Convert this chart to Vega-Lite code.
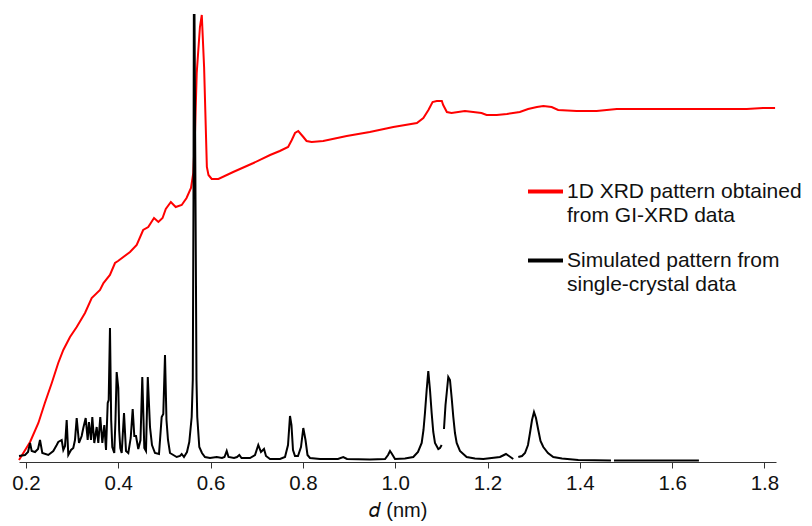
{
  "$schema": "https://vega.github.io/schema/vega-lite/v6.json",
  "width": 757,
  "height": 447,
  "autosize": {"type": "none"},
  "padding": {"left": 19, "top": 15, "right": 36, "bottom": 64},
  "background": "white",
  "config": {"view": {"stroke": null}, "font": "Liberation Sans"},
  "datasets": {
    "gixrd": [
      {"d": 0.185, "i": 2}, {"d": 0.209, "i": 20}, {"d": 0.227, "i": 39}, {"d": 0.241, "i": 59},
      {"d": 0.256, "i": 79}, {"d": 0.270, "i": 99}, {"d": 0.281, "i": 112}, {"d": 0.2955, "i": 125},
      {"d": 0.310, "i": 135}, {"d": 0.328, "i": 149}, {"d": 0.3425, "i": 164}, {"d": 0.3605, "i": 172},
      {"d": 0.368, "i": 179}, {"d": 0.382, "i": 187}, {"d": 0.393, "i": 199}, {"d": 0.3995, "i": 201},
      {"d": 0.4255, "i": 210}, {"d": 0.440, "i": 217}, {"d": 0.454, "i": 232}, {"d": 0.465, "i": 235},
      {"d": 0.4775, "i": 244}, {"d": 0.487, "i": 240}, {"d": 0.496, "i": 244}, {"d": 0.503, "i": 253},
      {"d": 0.514, "i": 260}, {"d": 0.5245, "i": 255}, {"d": 0.5375, "i": 257}, {"d": 0.548, "i": 264},
      {"d": 0.5576, "i": 274}, {"d": 0.5626, "i": 289}, {"d": 0.5663, "i": 329}, {"d": 0.570, "i": 389},
      {"d": 0.577, "i": 435}, {"d": 0.581, "i": 447}, {"d": 0.586, "i": 395}, {"d": 0.592, "i": 295},
      {"d": 0.5955, "i": 287}, {"d": 0.6025, "i": 283}, {"d": 0.617, "i": 283}, {"d": 0.649, "i": 290},
      {"d": 0.693, "i": 299}, {"d": 0.729, "i": 307}, {"d": 0.750, "i": 311}, {"d": 0.768, "i": 315},
      {"d": 0.776, "i": 322}, {"d": 0.783, "i": 329}, {"d": 0.790, "i": 331}, {"d": 0.801, "i": 325},
      {"d": 0.808, "i": 321}, {"d": 0.819, "i": 320}, {"d": 0.844, "i": 321}, {"d": 0.895, "i": 326},
      {"d": 0.945, "i": 330}, {"d": 0.996, "i": 335}, {"d": 1.047, "i": 339}, {"d": 1.061, "i": 344},
      {"d": 1.072, "i": 352}, {"d": 1.081, "i": 360}, {"d": 1.090, "i": 361}, {"d": 1.101, "i": 361},
      {"d": 1.104, "i": 357}, {"d": 1.112, "i": 350}, {"d": 1.122, "i": 349}, {"d": 1.151, "i": 351},
      {"d": 1.169, "i": 350}, {"d": 1.187, "i": 349}, {"d": 1.198, "i": 347}, {"d": 1.220, "i": 347},
      {"d": 1.242, "i": 348}, {"d": 1.270, "i": 350}, {"d": 1.288, "i": 353}, {"d": 1.307, "i": 355},
      {"d": 1.321, "i": 356}, {"d": 1.339, "i": 355}, {"d": 1.353, "i": 352}, {"d": 1.393, "i": 351},
      {"d": 1.4365, "i": 351}, {"d": 1.480, "i": 353}, {"d": 1.523, "i": 353}, {"d": 1.588, "i": 353},
      {"d": 1.660, "i": 353}, {"d": 1.718, "i": 353}, {"d": 1.7615, "i": 353}, {"d": 1.797, "i": 354},
      {"d": 1.823, "i": 354}
    ],
    "sim": [
      {"seg": 1, "d": 0.185, "i": 6}, {"seg": 1, "d": 0.198, "i": 7}, {"seg": 1, "d": 0.2045, "i": 10},
      {"seg": 1, "d": 0.209, "i": 19}, {"seg": 1, "d": 0.2125, "i": 11}, {"seg": 1, "d": 0.2197, "i": 10},
      {"seg": 1, "d": 0.2262, "i": 13}, {"seg": 1, "d": 0.2305, "i": 22}, {"seg": 1, "d": 0.2355, "i": 9},
      {"seg": 1, "d": 0.2485, "i": 7}, {"seg": 1, "d": 0.2593, "i": 11}, {"seg": 1, "d": 0.2667, "i": 17},
      {"seg": 1, "d": 0.2701, "i": 20}, {"seg": 1, "d": 0.2775, "i": 22}, {"seg": 1, "d": 0.281, "i": 12},
      {"seg": 1, "d": 0.2847, "i": 16}, {"seg": 1, "d": 0.2883, "i": 42}, {"seg": 1, "d": 0.2918, "i": 7},
      {"seg": 1, "d": 0.2977, "i": 12}, {"seg": 1, "d": 0.3026, "i": 14}, {"seg": 1, "d": 0.3063, "i": 22},
      {"seg": 1, "d": 0.31, "i": 44}, {"seg": 1, "d": 0.315, "i": 19}, {"seg": 1, "d": 0.3208, "i": 26},
      {"seg": 1, "d": 0.3243, "i": 34}, {"seg": 1, "d": 0.3295, "i": 44}, {"seg": 1, "d": 0.3338, "i": 22},
      {"seg": 1, "d": 0.3366, "i": 40}, {"seg": 1, "d": 0.341, "i": 22}, {"seg": 1, "d": 0.3438, "i": 45},
      {"seg": 1, "d": 0.3481, "i": 19}, {"seg": 1, "d": 0.3533, "i": 35}, {"seg": 1, "d": 0.3568, "i": 19},
      {"seg": 1, "d": 0.3611, "i": 45}, {"seg": 1, "d": 0.3655, "i": 19}, {"seg": 1, "d": 0.3698, "i": 37},
      {"seg": 1, "d": 0.3735, "i": 12}, {"seg": 1, "d": 0.3772, "i": 59}, {"seg": 1, "d": 0.3793, "i": 62},
      {"seg": 1, "d": 0.3821, "i": 134}, {"seg": 1, "d": 0.3847, "i": 42}, {"seg": 1, "d": 0.3871, "i": 15},
      {"seg": 1, "d": 0.3914, "i": 9}, {"seg": 1, "d": 0.394, "i": 42}, {"seg": 1, "d": 0.3966, "i": 90},
      {"seg": 1, "d": 0.4001, "i": 74}, {"seg": 1, "d": 0.402, "i": 32}, {"seg": 1, "d": 0.4044, "i": 14},
      {"seg": 1, "d": 0.4075, "i": 9}, {"seg": 1, "d": 0.4125, "i": 49}, {"seg": 1, "d": 0.4168, "i": 11},
      {"seg": 1, "d": 0.4218, "i": 9}, {"seg": 1, "d": 0.427, "i": 24}, {"seg": 1, "d": 0.4313, "i": 53},
      {"seg": 1, "d": 0.4348, "i": 26}, {"seg": 1, "d": 0.4385, "i": 26}, {"seg": 1, "d": 0.4434, "i": 13},
      {"seg": 1, "d": 0.4482, "i": 22}, {"seg": 1, "d": 0.4521, "i": 85}, {"seg": 1, "d": 0.4565, "i": 14},
      {"seg": 1, "d": 0.4601, "i": 11}, {"seg": 1, "d": 0.464, "i": 85}, {"seg": 1, "d": 0.4688, "i": 35},
      {"seg": 1, "d": 0.4731, "i": 17}, {"seg": 1, "d": 0.4796, "i": 9}, {"seg": 1, "d": 0.4883, "i": 8},
      {"seg": 1, "d": 0.4941, "i": 45}, {"seg": 1, "d": 0.4976, "i": 48}, {"seg": 1, "d": 0.5013, "i": 107},
      {"seg": 1, "d": 0.5045, "i": 42}, {"seg": 1, "d": 0.5078, "i": 22}, {"seg": 1, "d": 0.5121, "i": 9},
      {"seg": 1, "d": 0.5266, "i": 5}, {"seg": 1, "d": 0.5338, "i": 6}, {"seg": 1, "d": 0.5375, "i": 8},
      {"seg": 1, "d": 0.5424, "i": 5}, {"seg": 1, "d": 0.5489, "i": 10}, {"seg": 1, "d": 0.5539, "i": 20},
      {"seg": 1, "d": 0.5591, "i": 45}, {"seg": 1, "d": 0.5615, "i": 82}, {"seg": 1, "d": 0.563, "i": 262},
      {"seg": 1, "d": 0.5638, "i": 447}, {"seg": 1, "d": 0.5652, "i": 447}, {"seg": 1, "d": 0.5674, "i": 262},
      {"seg": 1, "d": 0.5695, "i": 82}, {"seg": 1, "d": 0.5712, "i": 45}, {"seg": 1, "d": 0.5756, "i": 15},
      {"seg": 1, "d": 0.5814, "i": 9}, {"seg": 1, "d": 0.5879, "i": 5}, {"seg": 1, "d": 0.5988, "i": 4},
      {"seg": 1, "d": 0.6133, "i": 5}, {"seg": 1, "d": 0.6248, "i": 4}, {"seg": 1, "d": 0.6302, "i": 5},
      {"seg": 1, "d": 0.635, "i": 11}, {"seg": 1, "d": 0.6389, "i": 5}, {"seg": 1, "d": 0.6508, "i": 4},
      {"seg": 1, "d": 0.6573, "i": 5}, {"seg": 1, "d": 0.6623, "i": 7}, {"seg": 1, "d": 0.6671, "i": 4},
      {"seg": 1, "d": 0.6854, "i": 4}, {"seg": 1, "d": 0.6963, "i": 7}, {"seg": 1, "d": 0.7034, "i": 17},
      {"seg": 1, "d": 0.7092, "i": 10}, {"seg": 1, "d": 0.7158, "i": 13}, {"seg": 1, "d": 0.7201, "i": 6},
      {"seg": 1, "d": 0.7288, "i": 3}, {"seg": 1, "d": 0.7504, "i": 3}, {"seg": 1, "d": 0.7613, "i": 5},
      {"seg": 1, "d": 0.7678, "i": 17}, {"seg": 1, "d": 0.7721, "i": 46}, {"seg": 1, "d": 0.7753, "i": 37},
      {"seg": 1, "d": 0.7786, "i": 12}, {"seg": 1, "d": 0.7829, "i": 6}, {"seg": 1, "d": 0.7894, "i": 6},
      {"seg": 1, "d": 0.7959, "i": 15}, {"seg": 1, "d": 0.8009, "i": 34}, {"seg": 1, "d": 0.8057, "i": 22},
      {"seg": 1, "d": 0.81, "i": 7}, {"seg": 1, "d": 0.8154, "i": 4}, {"seg": 1, "d": 0.8371, "i": 3},
      {"seg": 1, "d": 0.876, "i": 3}, {"seg": 1, "d": 0.8875, "i": 5}, {"seg": 1, "d": 0.8956, "i": 3},
      {"seg": 1, "d": 0.9453, "i": 2.5}, {"seg": 1, "d": 0.978, "i": 3}, {"seg": 1, "d": 0.9845, "i": 7},
      {"seg": 1, "d": 0.9888, "i": 11}, {"seg": 1, "d": 0.9931, "i": 8}, {"seg": 1, "d": 0.9996, "i": 3},
      {"seg": 1, "d": 1.0212, "i": 3.5}, {"seg": 1, "d": 1.0392, "i": 5}, {"seg": 1, "d": 1.0494, "i": 10},
      {"seg": 1, "d": 1.0574, "i": 19}, {"seg": 1, "d": 1.0613, "i": 32}, {"seg": 1, "d": 1.0645, "i": 49},
      {"seg": 1, "d": 1.0682, "i": 72}, {"seg": 1, "d": 1.0717, "i": 91}, {"seg": 1, "d": 1.0754, "i": 72},
      {"seg": 1, "d": 1.079, "i": 49}, {"seg": 1, "d": 1.0825, "i": 30}, {"seg": 1, "d": 1.0862, "i": 19},
      {"seg": 1, "d": 1.0934, "i": 13}, {"seg": 1, "d": 1.097, "i": 14}, {"seg": 1, "d": 1.1007, "i": 17},
      {"seg": 2, "d": 1.1057, "i": 33}, {"seg": 2, "d": 1.109, "i": 57}, {"seg": 2, "d": 1.1116, "i": 69},
      {"seg": 2, "d": 1.115, "i": 85}, {"seg": 2, "d": 1.1187, "i": 82}, {"seg": 2, "d": 1.1224, "i": 64},
      {"seg": 2, "d": 1.1259, "i": 45}, {"seg": 2, "d": 1.1295, "i": 29}, {"seg": 2, "d": 1.1332, "i": 19},
      {"seg": 2, "d": 1.1403, "i": 11}, {"seg": 2, "d": 1.1548, "i": 5}, {"seg": 2, "d": 1.1728, "i": 3.5},
      {"seg": 2, "d": 1.1908, "i": 3}, {"seg": 2, "d": 1.227, "i": 5}, {"seg": 2, "d": 1.2335, "i": 6.5},
      {"seg": 2, "d": 1.24, "i": 8}, {"seg": 2, "d": 1.2465, "i": 6}, {"seg": 2, "d": 1.2558, "i": 3},
      {"seg": 3, "d": 1.2667, "i": 5}, {"seg": 3, "d": 1.2747, "i": 6}, {"seg": 3, "d": 1.2812, "i": 9},
      {"seg": 3, "d": 1.2877, "i": 17}, {"seg": 3, "d": 1.292, "i": 29}, {"seg": 3, "d": 1.2964, "i": 42},
      {"seg": 3, "d": 1.3007, "i": 50}, {"seg": 3, "d": 1.305, "i": 44}, {"seg": 3, "d": 1.31, "i": 32},
      {"seg": 3, "d": 1.3148, "i": 21}, {"seg": 3, "d": 1.3209, "i": 15}, {"seg": 3, "d": 1.331, "i": 9},
      {"seg": 3, "d": 1.3425, "i": 5}, {"seg": 3, "d": 1.3613, "i": 3.5}, {"seg": 3, "d": 1.3787, "i": 2.7},
      {"seg": 3, "d": 1.3966, "i": 2}, {"seg": 3, "d": 1.4675, "i": 1.5},
      {"seg": 4, "d": 1.474, "i": 1.5}, {"seg": 4, "d": 1.658, "i": 1.5}
    ]
  },
  "layer": [
    {
      "data": {"name": "gixrd"},
      "mark": {"type": "line", "strokeWidth": 2, "interpolate": "linear"},
      "encoding": {
        "x": {
          "field": "d", "type": "quantitative",
          "scale": {"domain": [0.185, 1.825], "nice": false, "zero": false},
          "axis": {
            "values": [0.2, 0.4, 0.6, 0.8, 1.0, 1.2, 1.4, 1.6, 1.8],
            "format": ".1f", "grid": false,
            "title": "𝑑 (nm)", "titleFont": "Liberation Sans", "titleFontSize": 20,
            "titleFontWeight": "normal", "titleColor": "#111", "titlePadding": 7,
            "labelFont": "Liberation Sans", "labelFontSize": 20.5, "labelColor": "#111",
            "labelPadding": 5, "tickSize": 6, "tickColor": "#333", "domainColor": "#333",
            "labelFlush": false
          }
        },
        "y": {
          "field": "i", "type": "quantitative",
          "scale": {"domain": [0, 447], "nice": false, "zero": false},
          "axis": null
        },
        "color": {
          "datum": "gi",
          "scale": {"domain": ["gi", "sim"], "range": ["#ff0000", "#000000"]},
          "legend": {
            "title": null, "orient": "none", "legendX": 507, "legendY": 157, "padding": 0,
            "symbolType": "stroke", "symbolSize": 1225, "symbolStrokeWidth": 4,
            "labelFont": "Liberation Sans", "labelFontSize": 21, "labelColor": "#111",
            "labelLimit": 400, "labelOffset": 2, "rowPadding": 15,
            "labelExpr": "datum.value == 'gi' ? ['1D XRD pattern obtained', 'from GI-XRD data'] : ['Simulated pattern from', 'single-crystal data']",
            "encode": {"labels": {"update": {"lineHeight": {"value": 24}}}}
          }
        }
      }
    },
    {
      "data": {"name": "sim"},
      "mark": {"type": "line", "strokeWidth": 2, "interpolate": "linear"},
      "encoding": {
        "x": {"field": "d", "type": "quantitative"},
        "y": {"field": "i", "type": "quantitative"},
        "detail": {"field": "seg", "type": "nominal"},
        "color": {"datum": "sim"}
      }
    }
  ]
}
